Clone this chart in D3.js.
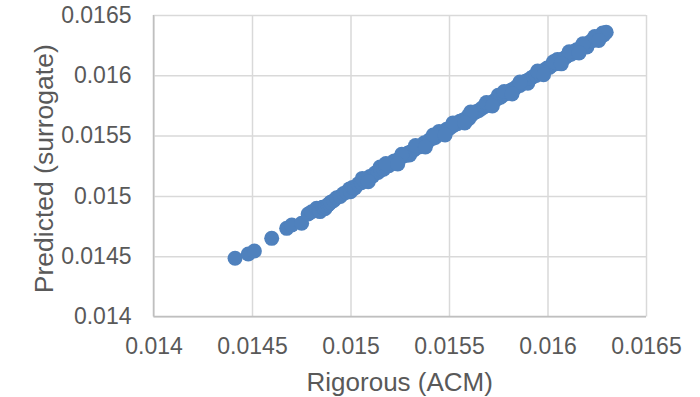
<!DOCTYPE html>
<html>
<head>
<meta charset="utf-8">
<script src="https://cdn.jsdelivr.net/npm/d3@7"></script>
<style>
  html, body { margin: 0; padding: 0; background: #fff; }
  svg { display: block; }
  text { font-family: "Liberation Sans", Arial, sans-serif; fill: #595959; }
</style>
</head>
<body>
<svg id="chart" width="700" height="397"></svg>
<script>
// Rigorous (ACM) results vs surrogate-model predictions
const rigorous = [
  0.014414, 0.014481, 0.014512, 0.014600, 0.014676, 0.014702, 0.014752, 0.014785,
  0.014803, 0.014828, 0.014840, 0.014845, 0.014858, 0.014862, 0.014870, 0.014875,
  0.014885, 0.014892, 0.014900, 0.014915, 0.014930, 0.014948, 0.014965, 0.014980,
  0.014995, 0.015000, 0.015010, 0.015022, 0.015040, 0.015055, 0.015070, 0.015085,
  0.015098, 0.015112, 0.015125, 0.015140, 0.015150, 0.015155, 0.015168, 0.015180,
  0.015195, 0.015210, 0.015222, 0.015238, 0.015250, 0.015265, 0.015280, 0.015292,
  0.015300, 0.015305, 0.015320, 0.015335, 0.015348, 0.015360, 0.015375, 0.015390,
  0.015402, 0.015418, 0.015430, 0.015445, 0.015450, 0.015460, 0.015472, 0.015488,
  0.015500, 0.015515, 0.015528, 0.015542, 0.015556, 0.015570, 0.015585, 0.015598,
  0.015600, 0.015612, 0.015625, 0.015640, 0.015652, 0.015668, 0.015680, 0.015695,
  0.015708, 0.015722, 0.015735, 0.015750, 0.015750, 0.015762, 0.015778, 0.015790,
  0.015805, 0.015818, 0.015832, 0.015845, 0.015860, 0.015872, 0.015888, 0.015900,
  0.015900, 0.015915, 0.015928, 0.015942, 0.015955, 0.015970, 0.015982, 0.015998,
  0.016010, 0.016025, 0.016038, 0.016050, 0.016052, 0.016065, 0.016080, 0.016092,
  0.016108, 0.016120, 0.016135, 0.016148, 0.016162, 0.016175, 0.016190, 0.016200,
  0.016202, 0.016218, 0.016230, 0.016245, 0.016258, 0.016270, 0.016280, 0.016285,
  0.016298,
  // off-centre runs that widen the band
  0.015060, 0.015180, 0.015260, 0.015330, 0.015420, 0.015520, 0.015610, 0.015690,
  0.015780, 0.015860, 0.015950, 0.016030, 0.016110, 0.016180, 0.016240,
  0.015090, 0.015240, 0.015380, 0.015480, 0.015580, 0.015720, 0.015820, 0.015980,
  0.016070, 0.016160, 0.016260
];
const predicted = [
  0.014483, 0.014518, 0.014543, 0.014648, 0.014731, 0.014759, 0.014773, 0.014850,
  0.014869, 0.014897, 0.014880, 0.014870, 0.014905, 0.014905, 0.014893, 0.014910,
  0.014925, 0.014935, 0.014948, 0.014962, 0.014985, 0.014995, 0.015020, 0.015030,
  0.015058, 0.015035, 0.015070, 0.015065, 0.015100, 0.015110, 0.015125, 0.015140,
  0.015160, 0.015163, 0.015190, 0.015195, 0.015240, 0.015215, 0.015222, 0.015245,
  0.015250, 0.015268, 0.015290, 0.015292, 0.015310, 0.015330, 0.015335, 0.015355,
  0.015340, 0.015365, 0.015378, 0.015400, 0.015405, 0.015418, 0.015440, 0.015445,
  0.015465, 0.015478, 0.015485, 0.015508, 0.015535, 0.015515, 0.015530, 0.015552,
  0.015558, 0.015575, 0.015590, 0.015598, 0.015620, 0.015628, 0.015640, 0.015665,
  0.015640, 0.015668, 0.015685, 0.015700, 0.015708, 0.015728, 0.015742, 0.015750,
  0.015770, 0.015778, 0.015795, 0.015812, 0.015835, 0.015818, 0.015840, 0.015848,
  0.015865, 0.015880, 0.015888, 0.015908, 0.015915, 0.015932, 0.015950, 0.015958,
  0.015935, 0.015975, 0.015990, 0.015998, 0.016018, 0.016025, 0.016042, 0.016060,
  0.016066, 0.016085, 0.016095, 0.016130, 0.016105, 0.016128, 0.016135, 0.016150,
  0.016168, 0.016175, 0.016198, 0.016212, 0.016218, 0.016238, 0.016250, 0.016235,
  0.016258, 0.016280, 0.016290, 0.016298, 0.016318, 0.016328, 0.016350, 0.016335,
  0.016357,
  0.015145, 0.015268, 0.015345, 0.015418, 0.015505, 0.015605, 0.015695, 0.015775,
  0.015865, 0.015945, 0.016035, 0.016112, 0.016195, 0.016262, 0.016322,
  0.015118, 0.015265, 0.015405, 0.015505, 0.015605, 0.015745, 0.015845, 0.016005,
  0.016095, 0.016185, 0.016288
];
const xTicks = [0.014, 0.0145, 0.015, 0.0155, 0.016, 0.0165];
const yTicks = [0.014, 0.0145, 0.015, 0.0155, 0.016, 0.0165];
const xTitle = "Rigorous (ACM)";
const yTitle = "Predicted (surrogate)";

const svg = d3.select("#chart");
const plot = { left: 153.5, right: 646, top: 15, bottom: 316.5 };

const x = d3.scaleLinear().domain([0.014, 0.0165]).range([plot.left, plot.right]);
const y = d3.scaleLinear().domain([0.014, 0.0165]).range([plot.bottom, plot.top]);

const fmt = d => String(+d.toFixed(6));
const grid = "#d9d9d9";

// vertical gridlines + x tick labels
const xAxis = svg.append("g")
  .attr("transform", `translate(0,${plot.bottom})`)
  .call(d3.axisBottom(x).tickValues(xTicks).tickFormat(fmt)
    .tickSize(-(plot.bottom - plot.top)).tickPadding(21));
xAxis.select(".domain").remove();
xAxis.selectAll(".tick line").attr("stroke", grid).attr("stroke-width", 1.5);
xAxis.selectAll(".tick text")
  .attr("font-size", 23).attr("fill", "#595959")
  .style("font-family", '"Liberation Sans", Arial, sans-serif');

// horizontal gridlines + y tick labels
const yAxis = svg.append("g")
  .attr("transform", `translate(${plot.left},0)`)
  .call(d3.axisLeft(y).tickValues(yTicks).tickFormat(fmt)
    .tickSize(-(plot.right - plot.left)).tickPadding(22));
yAxis.select(".domain").remove();
yAxis.selectAll(".tick line").attr("stroke", grid).attr("stroke-width", 1.5);
yAxis.selectAll(".tick text")
  .attr("font-size", 23).attr("fill", "#595959")
  .style("font-family", '"Liberation Sans", Arial, sans-serif');

// axis lines
svg.append("line")
  .attr("x1", plot.left).attr("x2", plot.right)
  .attr("y1", plot.bottom).attr("y2", plot.bottom)
  .attr("stroke", "#bfbfbf").attr("stroke-width", 1.5);
svg.append("line")
  .attr("x1", plot.left).attr("x2", plot.left)
  .attr("y1", plot.top).attr("y2", plot.bottom)
  .attr("stroke", "#bfbfbf").attr("stroke-width", 1.5);

// scatter markers
const pts = rigorous.map((r, i) => ({ r, p: predicted[i] }));
svg.append("g").selectAll("circle")
  .data(pts)
  .join("circle")
  .attr("cx", d => x(d.r))
  .attr("cy", d => y(d.p))
  .attr("r", 7.5)
  .attr("fill", "#4f81bd");

// axis titles
svg.append("text")
  .attr("x", (plot.left + plot.right) / 2)
  .attr("y", 391)
  .attr("text-anchor", "middle")
  .attr("font-size", 26)
  .text(xTitle);

svg.append("text")
  .attr("transform", `translate(53,${(plot.top + plot.bottom) / 2 + 3}) rotate(-90)`)
  .attr("text-anchor", "middle")
  .attr("font-size", 26.5)
  .text(yTitle);
</script>
</body>
</html>
